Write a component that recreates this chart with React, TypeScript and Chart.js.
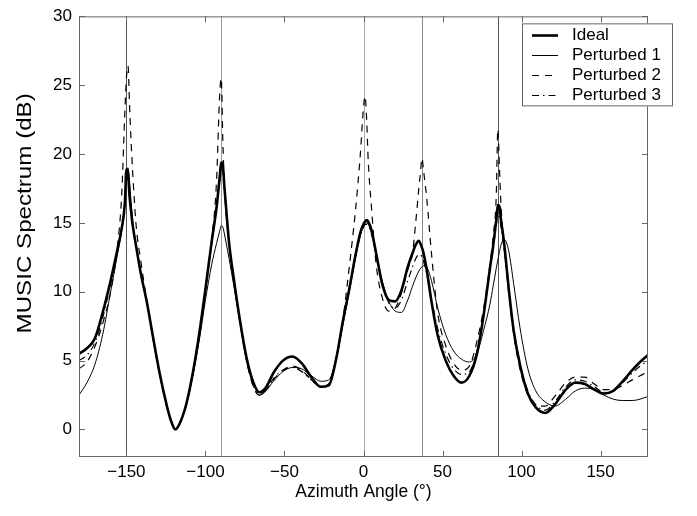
import React, { useEffect, useRef } from 'react';
import { Chart, registerables } from 'chart.js';

Chart.register(...registerables);

// ---------------- data ----------------
const angles = [
  -180, -175, -170, -165, -160, -156, -153, -151, -150, -149,
  -148, -147, -146, -144, -141, -137, -133, -129, -125, -122,
  -119, -116, -112, -108, -104, -100, -96, -93, -91, -90,
  -89, -88, -87, -85, -82, -78, -74, -70, -66, -62,
  -57, -51, -45, -39, -33, -27, -22, -17, -13, -9,
  -5, -2, 0, 1, 2, 3, 5, 8, 12, 16,
  20, 24, 28, 31, 33, 35, 36, 37, 38, 40,
  43, 47, 52, 57, 62, 67, 72, 76, 80, 82,
  84, 85, 86, 87, 88, 89, 90, 92, 95, 99,
  104, 109, 115, 121, 128, 134, 140, 146, 152, 158,
  164, 170, 175, 180,
];

const ideal = [
  5.5, 5.9, 6.6, 8.5, 10.8, 12.9, 14.6, 16.4, 18.9, 18.6,
  16.9, 15.8, 14.8, 13.4, 11.4, 9.2, 6.6, 4.1, 2.0, 0.7,
  0.0, 0.5, 1.9, 4.1, 6.9, 10.2, 13.7, 16.1, 18.3, 19.4,
  19.2, 17.6, 16.2, 13.5, 10.9, 7.8, 5.2, 3.5, 2.7, 3.0,
  4.1, 5.0, 5.3, 4.8, 3.8, 3.1, 3.2, 5.3, 7.9, 10.2,
  12.7, 14.3, 14.9, 15.1, 15.2, 15.1, 14.5, 12.8, 10.5, 9.4,
  9.3, 10.1, 11.8, 12.8, 13.4, 13.7, 13.5, 13.2, 12.8, 11.6,
  9.3, 6.8, 5.0, 3.9, 3.4, 3.9, 5.6, 8.3, 11.7, 13.3,
  15.2, 16.3, 16.2, 15.2, 14.4, 13.5, 12.4, 10.1, 7.2, 4.7,
  2.6, 1.6, 1.2, 1.8, 2.9, 3.4, 3.3, 2.9, 2.6, 2.8,
  3.5, 4.3, 4.9, 5.4,
];

const perturbed1 = [
  2.5, 3.4, 4.7, 6.9, 10.0, 12.5, 14.5, 16.6, 18.6, 19.0,
  18.0, 16.4, 15.0, 13.5, 11.5, 9.2, 6.6, 4.1, 2.0, 0.8,
  0.05, 0.5, 1.8, 3.9, 6.4, 9.4, 12.0, 13.5, 14.4, 14.8,
  14.7, 14.2, 13.6, 12.4, 10.4, 7.7, 5.3, 3.6, 2.7, 2.8,
  3.5, 4.2, 4.5, 4.4, 3.9, 3.5, 3.6, 5.3, 7.6, 10.0,
  12.5, 14.1, 14.8, 15.0, 15.0, 14.9, 14.3, 12.7, 10.7, 9.3,
  8.6, 8.5, 9.4, 10.4, 11.0, 11.5, 11.7, 11.8, 11.9, 11.8,
  10.8, 8.8, 6.9, 5.7, 5.1, 4.9, 5.6, 7.2, 9.1, 10.4,
  11.7, 12.3, 12.9, 13.4, 13.7, 13.8, 13.7, 12.9, 10.6, 7.4,
  4.4, 2.8, 2.0, 1.7, 2.2, 2.8, 3.0, 2.9, 2.5, 2.2,
  2.1, 2.1, 2.2, 2.4,
];

const perturbed2 = [
  4.4, 4.9, 6.0, 7.7, 10.0, 13.0, 17.0, 23.0, 25.5, 26.4,
  23.5, 20.8, 18.6, 15.0, 12.3, 9.3, 6.5, 4.0, 1.9, 0.7,
  0.0, 0.5, 1.8, 4.0, 6.7, 10.0, 13.8, 18.0, 24.3, 25.5,
  21.0, 17.6, 15.8, 13.5, 10.9, 7.7, 5.0, 3.2, 2.5, 2.8,
  3.6, 4.3, 4.6, 4.3, 3.6, 3.1, 3.3, 5.2, 8.0, 11.8,
  16.0, 20.0, 23.4, 24.2, 22.5, 19.5, 16.2, 12.0, 9.5, 8.6,
  8.8, 9.9, 11.6, 12.8, 15.0, 17.5, 18.6, 19.7, 18.8, 16.8,
  12.8, 8.4, 6.1, 4.8, 4.3, 4.6, 6.5, 8.8, 12.0, 14.0,
  17.0, 21.8, 19.0, 16.3, 14.5, 13.2, 12.0, 9.8, 6.9, 4.4,
  2.5, 1.7, 1.7, 2.4, 3.4, 3.8, 3.8, 3.3, 2.9, 2.9,
  3.2, 3.6, 3.9, 4.2,
];

const perturbed3 = [
  5.0, 5.4, 6.3, 8.1, 10.6, 12.8, 14.6, 16.3, 18.4, 18.5,
  17.5, 16.2, 15.0, 13.4, 11.4, 9.2, 6.5, 4.0, 1.9, 0.7,
  0.0, 0.5, 1.9, 4.1, 6.8, 10.1, 13.5, 16.0, 18.0, 19.0,
  18.9, 17.5, 16.1, 13.5, 10.8, 7.7, 5.1, 3.3, 2.5, 2.8,
  3.7, 4.3, 4.5, 4.2, 3.6, 3.1, 3.3, 5.3, 7.9, 10.2,
  12.6, 14.1, 14.7, 14.9, 14.9, 14.8, 14.2, 12.7, 10.6, 9.2,
  8.8, 9.4, 10.8, 11.8, 12.4, 12.7, 12.7, 12.5, 12.2, 11.3,
  9.5, 7.3, 5.5, 4.4, 4.0, 4.2, 5.8, 8.5, 11.6, 13.1,
  14.8, 15.5, 15.4, 14.7, 14.0, 13.1, 12.1, 10.1, 7.3, 4.8,
  2.8, 1.8, 1.4, 2.0, 3.1, 3.6, 3.5, 3.1, 2.7, 2.8,
  3.4, 4.1, 4.6, 5.0,
];

const seriesLabels = ['Ideal', 'Perturbed 1', 'Perturbed 2', 'Perturbed 3'];
const doaAngles = [-150, -90, 0, 37, 85];
const xTicks = [-150, -100, -50, 0, 50, 100, 150];
const yTicks = [0, 5, 10, 15, 20, 25, 30];
const xRange = [-180, 180];
const yRange = [-2, 30];
const xLabel = 'Azimuth Angle (°)';
const yLabel = 'MUSIC Spectrum (dB)';

// ---------------- styles ----------------
const FONT = "'Liberation Sans', Arial, Helvetica, sans-serif";
const doaColors = ['#555', '#999', '#aaa', '#888', '#555'];
const lineStyles = [
  { width: 2.6, dash: [] as number[] },
  { width: 1, dash: [] as number[] },
  { width: 1.2, dash: [7, 6] },
  { width: 1.2, dash: [7, 4, 1.5, 4] },
];

const fmt = (v: number) => (v < 0 ? '\u2212' + Math.abs(v) : String(v));

const framePlugin = {
  id: 'matlabFrame',
  beforeDatasetsDraw(chart: any) {
    const { ctx, chartArea: a, scales } = chart;
    ctx.save();
    ctx.lineWidth = 1;
    doaAngles.forEach((ang, i) => {
      const px = Math.round(scales.x.getPixelForValue(ang)) + 0.5;
      ctx.strokeStyle = doaColors[i];
      ctx.beginPath();
      ctx.moveTo(px, a.top);
      ctx.lineTo(px, a.bottom);
      ctx.stroke();
    });
    ctx.restore();
  },
  afterDatasetsDraw(chart: any) {
    const { ctx, chartArea: a, scales } = chart;
    ctx.save();
    ctx.strokeStyle = '#666';
    ctx.lineWidth = 1;
    ctx.setLineDash([]);
    ctx.strokeRect(a.left + 0.5, a.top + 0.5, a.right - a.left - 1, a.bottom - a.top - 1);
    const L = 6;
    const seg = (x1: number, y1: number, x2: number, y2: number) => {
      ctx.beginPath();
      ctx.moveTo(x1, y1);
      ctx.lineTo(x2, y2);
      ctx.stroke();
    };
    xTicks.forEach((v) => {
      const px = Math.round(scales.x.getPixelForValue(v)) + 0.5;
      seg(px, a.bottom, px, a.bottom - L);
      seg(px, a.top, px, a.top + L);
    });
    yTicks.forEach((v) => {
      const py = Math.round(scales.y.getPixelForValue(v)) + 0.5;
      seg(a.left, py, a.left + L, py);
      seg(a.right, py, a.right - L, py);
    });
    ctx.restore();
  },
  afterDraw(chart: any) {
    const { ctx, chartArea: a } = chart;
    // y-axis title
    ctx.save();
    ctx.translate(25, a.top + 197);
    ctx.rotate(-Math.PI / 2);
    ctx.scale(1.15, 1);
    ctx.font = `21px ${FONT}`;
    ctx.fillStyle = '#000';
    ctx.textAlign = 'center';
    ctx.textBaseline = 'middle';
    ctx.fillText(yLabel, 0, 0);
    ctx.restore();

    // legend
    const bx = a.right - 126;
    const by = a.top + 7;
    const bw = 151;
    const bh = 83;
    ctx.save();
    ctx.fillStyle = '#fff';
    ctx.fillRect(bx, by, bw, bh);
    ctx.strokeStyle = '#666';
    ctx.lineWidth = 1;
    ctx.strokeRect(bx + 0.5, by + 0.5, bw - 1, bh - 1);
    ctx.font = `17px ${FONT}`;
    ctx.textBaseline = 'middle';
    ctx.textAlign = 'left';
    chart.data.datasets.forEach((ds: any, i: number) => {
      const y = Math.round(by + 12 + i * 20) + 0.5;
      ctx.strokeStyle = '#000';
      ctx.lineWidth = ds.borderWidth;
      ctx.setLineDash(ds.borderDash || []);
      ctx.beginPath();
      ctx.moveTo(bx + 10, y);
      ctx.lineTo(bx + 36, y);
      ctx.stroke();
      ctx.setLineDash([]);
      ctx.fillStyle = '#000';
      ctx.fillText(ds.label, bx + 50, y);
    });
    ctx.restore();
  },
};

export default function App() {
  const ref = useRef<HTMLCanvasElement | null>(null);

  useEffect(() => {
    if (!ref.current) return;
    const series = [ideal, perturbed1, perturbed2, perturbed3];
    const chart = new Chart(ref.current, {
      type: 'line',
      data: {
        datasets: series.map((vals, i) => ({
          label: seriesLabels[i],
          data: angles.map((x, j) => ({ x, y: vals[j] })),
          borderColor: '#000',
          borderWidth: lineStyles[i].width,
          borderDash: lineStyles[i].dash,
          pointRadius: 0,
          fill: false,
          cubicInterpolationMode: 'monotone' as const,
        })),
      },
      options: {
        animation: false,
        responsive: false,
        events: [],
        layout: { padding: { left: 0, right: 49, top: 10, bottom: 0 } },
        plugins: { legend: { display: false }, tooltip: { enabled: false } },
        scales: {
          x: {
            type: 'linear',
            min: xRange[0],
            max: xRange[1],
            afterBuildTicks: (s: any) => {
              s.ticks = xTicks.map((v) => ({ value: v }));
            },
            afterFit: (s: any) => {
              s.height = 59;
            },
            grid: { display: false, drawTicks: false },
            border: { display: false },
            ticks: {
              padding: 6,
              color: '#000',
              maxRotation: 0,
              autoSkip: false,
              font: { family: FONT, size: 17, lineHeight: 1.1 },
              callback: (v: any) => fmt(Number(v)),
            },
            title: {
              display: true,
              text: xLabel,
              color: '#000',
              font: { family: FONT, size: 17.5, lineHeight: 1.2 },
              padding: { top: 0, bottom: 13 },
            },
          },
          y: {
            type: 'linear',
            min: yRange[0],
            max: yRange[1],
            afterBuildTicks: (s: any) => {
              s.ticks = yTicks.map((v) => ({ value: v }));
            },
            afterFit: (s: any) => {
              s.width = 79;
            },
            grid: { display: false, drawTicks: false },
            border: { display: false },
            ticks: {
              padding: 7,
              color: '#000',
              autoSkip: false,
              font: { family: FONT, size: 17, lineHeight: 1.1 },
              callback: (v: any) => fmt(Number(v)),
            },
            title: { display: false },
          },
        },
      },
      plugins: [framePlugin],
    } as any);
    return () => chart.destroy();
  }, []);

  return (
    <div style={{ position: 'fixed', left: 0, top: 0, width: 697, height: 516, background: '#fff' }}>
      <canvas ref={ref} width={697} height={516} style={{ display: 'block' }} />
    </div>
  );
}
